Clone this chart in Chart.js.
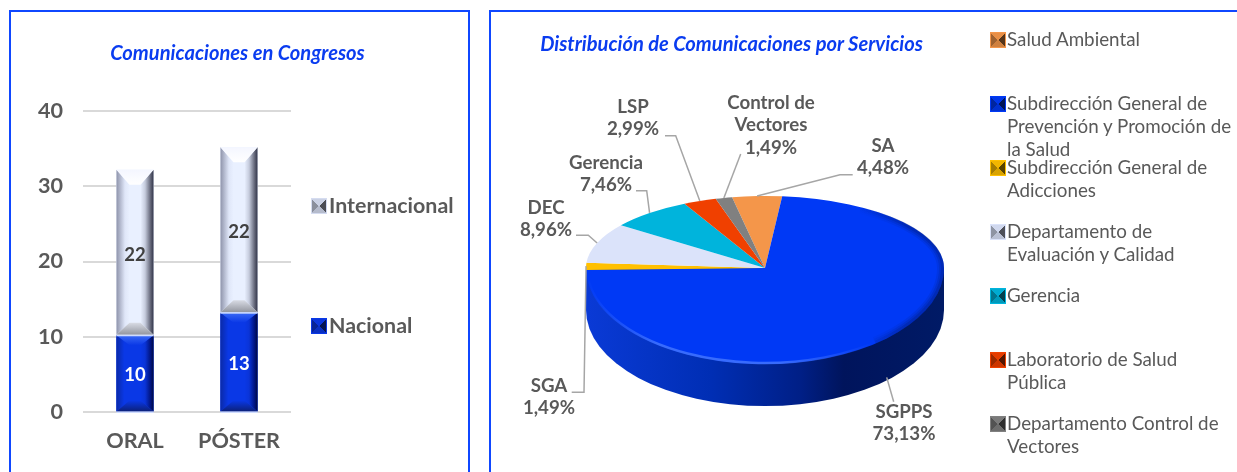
<!DOCTYPE html>
<html lang="es"><head><meta charset="utf-8">
<script src="https://cdn.jsdelivr.net/npm/chart.js@4"></script>
<style>
html,body{margin:0;padding:0;background:#fff;overflow:hidden}
body{width:1237px;height:472px;position:relative;font-family:Lato,sans-serif}
.panel{position:absolute;border:2px solid #0f47ff;border-bottom:none;box-sizing:border-box}
canvas{position:absolute;left:0;top:0}
.title{position:absolute;font:italic 700 20.1px Lato,sans-serif;color:#0a3cf0;white-space:nowrap;transform:translateX(-50%)}
.lg{position:absolute;color:#595959;white-space:pre-line}
.sw{position:absolute;width:16px;height:16px}
</style></head><body>
<div class="panel" style="left:9px;top:10px;width:461px;height:462px"></div>
<div class="panel" style="left:489px;top:10px;width:760px;height:462px"></div>
<canvas id="bars" width="480" height="472" style="width:480px;height:472px"></canvas>
<canvas id="pie" width="1237" height="472" style="width:1237px;height:472px"></canvas>
<div class="title" style="left:237.5px;top:40px">Comunicaciones en Congresos</div>
<div class="title" style="left:731.5px;top:31px">Distribución de Comunicaciones por Servicios</div>
<div id="legends"></div>
<script>
const barCategories = ['ORAL', 'PÓSTER'];
const barSeriesNames = ['Nacional', 'Internacional'];
const nacional = [10, 13];
const internacional = [22, 22];
const barTicks = [0, 10, 20, 30, 40];

const pieShortNames = ['SA', 'SGPPS', 'SGA', 'DEC', 'Gerencia', 'LSP', 'Control de\nVectores'];
const pieLongNames = ['Salud Ambiental', 'Subdirección General de\nPrevención y Promoción de\nla Salud', 'Subdirección General de\nAdicciones', 'Departamento de\nEvaluación y Calidad', 'Gerencia', 'Laboratorio de Salud\nPública', 'Departamento Control de\nVectores'];
const pieValues = [3, 49, 1, 6, 5, 2, 1];
const pieColors = ['#f4964a', '#0039f5', '#ffc000', '#dbe3fa', '#00b4dc', '#f04000', '#808080'];

Chart.defaults.animation = false;
Chart.defaults.font.family = 'Lato, sans-serif';
const GREY = '#595959';

function quad(ctx, pts, fill) {
  ctx.fillStyle = fill; ctx.beginPath();
  pts.forEach((p, i) => i ? ctx.lineTo(p[0], p[1]) : ctx.moveTo(p[0], p[1]));
  ctx.closePath(); ctx.fill();
}
function grad(ctx, x0, y0, x1, y1, stops) {
  const g = ctx.createLinearGradient(x0, y0, x1, y1);
  stops.forEach(([o, c]) => g.addColorStop(o, c)); return g;
}
const bevels = [
  {flat:'#0a38e6', left:[[0,'#0a2aa8'],[.6,'#0a38e6'],[1,'#0a38e6']], right:[[0,'#0a38e6'],[.35,'#0a34d8'],[.8,'#00127a'],[1,'#000a40']], top:[[0,'#3a6af5'],[1,'#0a38e6']], bot:[[0,'#0a38e6'],[1,'#0c2078']], tb:10, bb:11, lbl:'#ffffff'},
  {flat:'#e9f0ff', left:[[0,'#8f94ab'],[.65,'#dfe6f8'],[1,'#e9f0ff']], right:[[0,'#e9f0ff'],[.35,'#c6ccdd'],[.8,'#5d6072'],[1,'#33364a']], top:[[0,'#f4f6ff'],[1,'#ffffff']], bot:[[0,'#d8dbe4'],[1,'#93969f']], tb:15, bb:12, lbl:'#404040'}
];
const barBevel = {
  id: 'barBevel',
  afterDatasetsDraw(chart) {
    const ctx = chart.ctx;
    chart.data.datasets.forEach((ds, di) => {
      const b = bevels[di];
      chart.getDatasetMeta(di).data.forEach((el, i) => {
        const w = el.width, x0 = el.x - w/2, x1 = el.x + w/2, y0 = el.y - 1.5, y1 = el.base - (di ? 2 : -0.5);
        const s = 13;
        quad(ctx, [[x0,y0],[x1,y0],[x1,y1],[x0,y1]], b.flat);
        quad(ctx, [[x0,y0],[x0+s,y0+b.tb],[x0+s,y1-b.bb],[x0,y1]], grad(ctx,x0,0,x0+s,0,b.left));
        quad(ctx, [[x1,y0],[x1-s,y0+b.tb],[x1-s,y1-b.bb],[x1,y1]], grad(ctx,x1-s,0,x1,0,b.right));
        quad(ctx, [[x0,y0],[x1,y0],[x1-s,y0+b.tb],[x0+s,y0+b.tb]], grad(ctx,0,y0,0,y0+b.tb,b.top));
        quad(ctx, [[x0,y1],[x1,y1],[x1-s,y1-b.bb],[x0+s,y1-b.bb]], grad(ctx,0,y1-b.bb,0,y1,b.bot));
        ctx.fillStyle = '#cfdcff'; ctx.fillRect(x0, y1, w, 1.5);
        ctx.fillStyle = b.lbl; ctx.font = '700 18.5px Lato, sans-serif';
        ctx.textAlign = 'center'; ctx.textBaseline = 'middle';
        ctx.fillText(String(ds.data[i]), el.x, (el.y + el.base)/2 + 1);
      });
    });
  }
};
new Chart(document.getElementById('bars'), {
  type: 'bar',
  data: { labels: barCategories, datasets: [
    { label: barSeriesNames[0], data: nacional, backgroundColor: bevels[0].flat, borderWidth: 0, stack: 's' },
    { label: barSeriesNames[1], data: internacional, backgroundColor: bevels[1].flat, borderWidth: 0, stack: 's' }
  ]},
  plugins: [barBevel],
  options: {
    responsive: false,
    barPercentage: 0.356, categoryPercentage: 1,
    layout: { padding: { top: 111, right: 189, left: 0, bottom: 0 } },
    plugins: { legend: { display: false }, tooltip: { enabled: false } },
    scales: {
      x: { stacked: true, grid: { display: false }, border: { display: false },
           afterFit(s) { s.height = 60; },
           ticks: { color: GREY, padding: 8, maxRotation: 0, font: { size: 21.6, weight: '700' } } },
      y: { stacked: true, min: 0, max: 40, afterFit(s) { s.width = 83; },
           afterBuildTicks(s) { s.ticks = barTicks.map(v => ({ value: v })); },
           grid: { color: '#d9d9d9', lineWidth: 2, drawTicks: false }, border: { display: false },
           ticks: { color: GREY, padding: 20, font: { size: 21.6, weight: '700' } } }
    }
  }
});

/* 3-D look: the library's arcs are drawn flattened, with a taller ratio in front of the apex */
const RATIO_BACK = 72/179, RATIO_FRONT = 96/179, DEPTH = 42;
const pieLabelLayout = [
  {x:883, y:146, el:[[852.7,174.7],[840,174.7]]},
  {x:904, y:412, el:[[893.7,401.7]]},
  {x:549, y:386, el:[[571.7,392.3],[584,392.3]]},
  {x:546, y:208, el:[[576,235.3],[588.3,235.3]]},
  {x:606, y:163, el:[[636,190.7],[646.7,190.7]]},
  {x:633, y:107, el:[[665,135.7],[675.7,135.7]]},
  {x:771, y:103, el:[[740.7,154]]}
];
function flatten(ctx, el, ratio) {
  ctx.translate(el.x, el.y); ctx.scale(1, ratio); ctx.translate(-el.x, -el.y);
}
const pie3d = {
  id: 'pie3d',
  beforeDatasetDraw(chart, args) {
    const ctx = chart.ctx, el = args.meta.data[0], R = el.outerRadius;
    const yFront = RATIO_FRONT * R;
    ctx.save();
    const g = ctx.createLinearGradient(el.x - R, 0, el.x + R, 0);
    g.addColorStop(0, '#0a3ad6'); g.addColorStop(0.35, '#002eb4');
    g.addColorStop(0.6, '#001f86'); g.addColorStop(0.72, '#00145c');
    g.addColorStop(1, '#001a66');
    ctx.fillStyle = g; ctx.beginPath();
    ctx.moveTo(el.x - R, el.y);
    ctx.lineTo(el.x - R, el.y + DEPTH);
    ctx.ellipse(el.x, el.y + DEPTH, R, yFront, 0, Math.PI, 0, true);
    ctx.lineTo(el.x + R, el.y);
    ctx.closePath(); ctx.fill();
    ctx.restore();
    ctx.save();
    ctx.beginPath(); ctx.rect(0, 0, chart.width, el.y + 0.5); ctx.clip();
    flatten(ctx, el, RATIO_BACK);
  },
  afterDatasetDraw(chart, args) {
    const ctx = chart.ctx, el = args.meta.data[0], R = el.outerRadius;
    ctx.restore();
    ctx.save();
    ctx.beginPath(); ctx.rect(0, el.y, chart.width, chart.height - el.y); ctx.clip();
    flatten(ctx, el, RATIO_FRONT);
    args.meta.controller.draw();
    ctx.restore();
    /* rim highlight in front (fading out at both ends), soft shade on the right */
    ctx.save();
    ctx.strokeStyle = grad(ctx, el.x - R, 0, el.x + R, 0, [[0,'rgba(70,120,255,0)'],[.2,'rgba(70,120,255,.8)'],[.55,'rgba(70,120,255,.8)'],[.8,'rgba(70,120,255,0)'],[1,'rgba(70,120,255,0)']]);
    ctx.lineWidth = 2.5;
    ctx.beginPath(); ctx.ellipse(el.x, el.y, R - 1, RATIO_FRONT * R - 1, 0, 0.45, 3.0); ctx.stroke();
    for (const [w, a] of [[7,.12],[5,.18],[3,.25]]) {
      ctx.lineWidth = w;
      ctx.strokeStyle = grad(ctx, el.x + R*0.5, 0, el.x + R*0.8, 0, [[0,'rgba(0,24,110,0)'],[1,`rgba(0,24,110,${a})`]]);
      ctx.beginPath(); ctx.ellipse(el.x, el.y, R - w/2, RATIO_BACK * R - w/2, 0, -1.0, 0); ctx.stroke();
      ctx.beginPath(); ctx.ellipse(el.x, el.y, R - w/2, RATIO_FRONT * R - w/2, 0, 0, 0.9); ctx.stroke();
    }
    ctx.restore();
  },
  afterDatasetsDraw(chart) {
    const ctx = chart.ctx, meta = chart.getDatasetMeta(0);
    const total = pieValues.reduce((a, b) => a + b, 0);
    ctx.save();
    meta.data.forEach((el, i) => {
      const mid = (el.startAngle + el.endAngle) / 2, s = Math.sin(mid);
      const ratio = s > 0 ? RATIO_FRONT : RATIO_BACK;
      const px = el.x + Math.cos(mid) * el.outerRadius;
      const py = el.y + s * el.outerRadius * ratio + (s > 0.3 ? DEPTH - 3 : 0);
      const L = pieLabelLayout[i];
      ctx.strokeStyle = '#a6a6a6'; ctx.lineWidth = 1.5; ctx.beginPath();
      L.el.forEach((p, k) => k ? ctx.lineTo(p[0], p[1]) : ctx.moveTo(p[0], p[1]));
      ctx.lineTo(px, py); ctx.stroke();
      const pct = (pieValues[i] / total * 100).toFixed(2).replace('.', ',') + '%';
      const lines = pieShortNames[i].split('\n').concat(pct);
      ctx.fillStyle = GREY; ctx.font = '700 18.7px Lato, sans-serif';
      ctx.textAlign = 'center'; ctx.textBaseline = 'middle';
      lines.forEach((t, k) => ctx.fillText(t, L.x, L.y + k * 22.3));
    });
    ctx.restore();
  }
};
new Chart(document.getElementById('pie'), {
  type: 'pie',
  data: { labels: pieLongNames.map(s => s.replace(/\n/g, ' ')), datasets: [
    { data: pieValues, backgroundColor: pieColors, borderWidth: 0, clip: false }
  ]},
  plugins: [pie3d],
  options: {
    responsive: false,
    rotation: -10.6,
    layout: { padding: { left: 586, right: 293, top: 89, bottom: 25 } },
    plugins: { legend: { display: false }, tooltip: { enabled: false } }
  }
});

/* HTML legends */
function shade(hex, f) {
  const n = parseInt(hex.slice(1), 16);
  const c = [n >> 16, (n >> 8) & 255, n & 255].map(v => Math.round(v * f));
  return `rgb(${c.join(',')})`;
}
function swatch(color, x, y) {
  const d = document.createElement('div');
  d.className = 'sw';
  d.style.cssText += `left:${x}px;top:${y}px;box-shadow:inset 0 0 0 1px ${color};` +
    `background:conic-gradient(${shade(color,.95)} 0 45deg, ${shade(color,.35)} 45deg 135deg, ${shade(color,.85)} 135deg 225deg, ${shade(color,.65)} 225deg 315deg, ${shade(color,.95)} 315deg)`;
  document.getElementById('legends').appendChild(d);
}
function legendText(t, x, y, css) {
  const d = document.createElement('div');
  d.className = 'lg'; d.textContent = t;
  d.style.cssText += `left:${x}px;top:${y}px;${css}`;
  document.getElementById('legends').appendChild(d);
}
[[barSeriesNames[1], '#d5dcf0', 198, 192], [barSeriesNames[0], '#0a38e6', 318, 312]].forEach(([t, c, sy, ty]) => {
  swatch(c, 311, sy);
  legendText(t, 329, ty, 'font:700 21.4px/26px Lato,sans-serif');
});
pieLongNames.forEach((t, i) => {
  swatch(pieColors[i], 990, 32 + i * 64);
  legendText(t, 1007, 27 + i * 64, 'font:400 18.8px/23px Lato,sans-serif');
});
</script>
</body></html>
